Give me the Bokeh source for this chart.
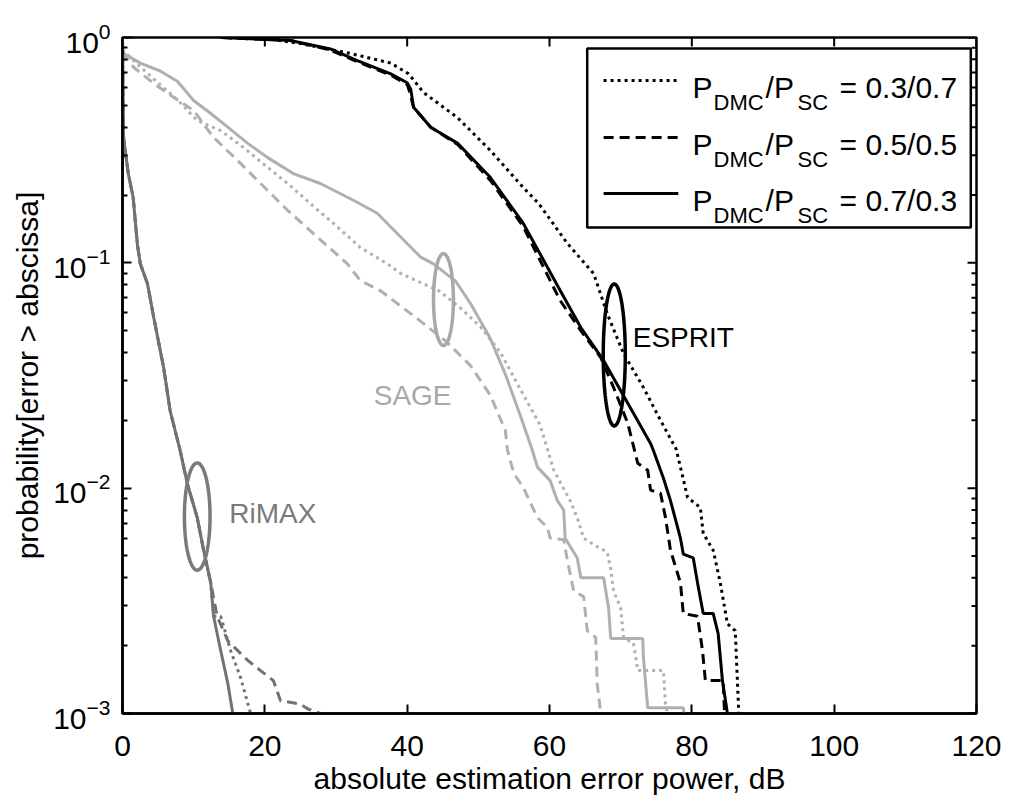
import numpy as np
from bokeh.plotting import figure
from bokeh.models import FixedTicker
from bokeh.core.properties import value
from bokeh.embed import file_html
from bokeh.resources import INLINE

FONT = "Liberation Sans"

# ---------------- data ----------------
# ESPRIT (black)
esprit_dot_x = [14, 20, 25.0, 32.0, 37.7, 40.2, 42.3, 47.1, 51.7, 56.3, 58.5, 62.5, 66.2, 68.1, 70.4, 73.2,
                75.6, 77.8, 79.4, 81.2, 81.6, 83.0, 84.0, 85.0, 86.1, 86.4, 86.6]
esprit_dot_y = [1.0, 0.99, 0.94, 0.85, 0.77, 0.69, 0.57, 0.44, 0.315, 0.216, 0.183, 0.122, 0.0897, 0.0596, 0.0396, 0.028,
                0.020, 0.0149, 0.0091, 0.0082, 0.0063, 0.0053, 0.0038, 0.0025, 0.00233, 0.0014, 0.001]

esprit_sol_x = [13.8, 23.6, 29.2, 33.0, 37.7, 40.0, 40.5, 40.9, 43.3, 47.1, 51.7, 56.3, 61.5, 64.4, 67.6, 71.0,
                74.2, 74.6, 76.0, 77.0, 78.4, 78.8, 80.2, 80.8, 81.6, 83.0, 83.7, 84.3, 85.0]
esprit_sol_y = [1.0, 0.97, 0.89, 0.79, 0.69, 0.63, 0.59, 0.49, 0.40, 0.339, 0.239, 0.150, 0.0754, 0.0516, 0.0369, 0.0238,
                0.0158, 0.0147, 0.0111, 0.0088, 0.0060, 0.0051, 0.0049, 0.0038, 0.00278, 0.00278, 0.00226, 0.0014, 0.001]

esprit_dash_x = [14.0, 23.6, 29.2, 33.0, 37.7, 40.0, 40.3, 40.9, 43.3, 47.1, 51.7, 56.3, 61.5, 64.4, 67.2, 69.0,
                 71.0, 72.4, 73.8, 74.2, 75.6, 76.3, 77.0, 78.4, 78.8, 80.8, 81.5, 81.9, 84.4, 84.6]
esprit_dash_y = [1.0, 0.97, 0.88, 0.78, 0.68, 0.62, 0.58, 0.49, 0.40, 0.335, 0.232, 0.145, 0.068, 0.050, 0.038, 0.028,
                 0.0194, 0.0129, 0.012, 0.0098, 0.0095, 0.0074, 0.0053, 0.0038, 0.00278, 0.0027, 0.0019, 0.0014, 0.0014, 0.001]

# SAGE (light gray)
sage_sol_x = [0.0, 0.14, 2.5, 5.3, 7.7, 10.0, 12.4, 14.8, 17.6, 20.4, 24.0, 27.8, 32.5, 35.8, 38.6, 41.9, 43.7,
              46.8, 48.9, 51.7, 53.8, 55.9, 57.6, 58.3, 60.1, 61.1, 62.0, 62.2, 63.9, 64.4, 67.6, 68.3, 68.6,
              73.1, 73.2, 73.8, 78.8, 78.9]
sage_sol_y = [0.92, 0.85, 0.77, 0.71, 0.64, 0.525, 0.46, 0.40, 0.339, 0.293, 0.249, 0.225, 0.189, 0.166, 0.135, 0.106, 0.099,
              0.083, 0.066, 0.046, 0.032, 0.021, 0.0147, 0.0124, 0.0108, 0.0088, 0.0080, 0.0060, 0.0049, 0.0040, 0.0040, 0.00295, 0.00215,
              0.00215, 0.00177, 0.00106, 0.00106, 0.001]

sage_dot_x = [0.0, 2.5, 5.0, 7.7, 10.5, 13.8, 17.0, 20.4, 23.2, 26.4, 29.6, 33.4, 37.2, 39.1, 44.5, 47.5, 50.3,
              53.1, 55.9, 58.7, 60.6, 62.9, 63.9, 64.8, 66.7, 68.1, 68.6, 69.0, 70.0, 70.4, 71.8, 72.4, 76.0, 76.3, 76.6]
sage_dot_y = [0.88, 0.74, 0.63, 0.53, 0.428, 0.386, 0.325, 0.265, 0.225, 0.183, 0.150, 0.117, 0.099, 0.0897, 0.075, 0.063, 0.052,
              0.040, 0.0275, 0.019, 0.012, 0.0088, 0.0074, 0.0060, 0.0055, 0.0052, 0.0044, 0.0035, 0.00295, 0.00217, 0.00205, 0.00155,
              0.00155, 0.0011, 0.001]

sage_dash_x = [0.0, 1.6, 4.4, 7.2, 10.0, 12.8, 16.2, 19.4, 23.2, 26.8, 31.6, 33.4, 36.3, 41.9, 45.4, 48.9, 51.7,
               53.8, 54.1, 55.0, 56.3, 58.3, 59.7, 60.1, 62.0, 62.5, 63.4, 64.8, 65.3, 66.5, 66.7, 67.2]
sage_dash_y = [0.86, 0.736, 0.625, 0.542, 0.474, 0.360, 0.284, 0.225, 0.171, 0.135, 0.099, 0.0835, 0.075, 0.055, 0.045, 0.035, 0.0258,
               0.018, 0.0147, 0.0116, 0.0101, 0.0074, 0.0067, 0.0060, 0.0059, 0.0048, 0.0035, 0.0033, 0.00233, 0.00217, 0.00136, 0.001]

# RiMAX (dark gray)
rimax_sol_x = [0.0, 0.1, 0.15, 0.8, 1.5, 2.1, 2.5, 3.5, 4.4, 5.8, 6.7, 8.1, 9.1, 10.5, 11.4, 12.4, 12.8, 13.8, 14.8, 15.5]
rimax_sol_y = [1.0, 0.5, 0.36, 0.25, 0.195, 0.12, 0.099, 0.081, 0.057, 0.034, 0.022, 0.0147, 0.0105, 0.0074, 0.0053, 0.0038,
               0.0027, 0.0019, 0.00136, 0.001]

rimax_dot_x = [0.0, 0.1, 0.15, 0.8, 1.5, 2.1, 2.5, 3.5, 4.4, 5.8, 6.7, 8.1, 9.1, 10.5, 11.4, 12.4, 12.8, 13.8, 15.2, 16.6, 18.0]
rimax_dot_y = [1.0, 0.5, 0.36, 0.25, 0.195, 0.12, 0.099, 0.081, 0.057, 0.034, 0.022, 0.0147, 0.0105, 0.0074, 0.0053, 0.0038,
               0.0027, 0.0027, 0.0019, 0.00144, 0.001]

rimax_dash_x = [0.0, 0.1, 0.15, 0.8, 1.5, 2.1, 2.5, 3.5, 4.4, 5.8, 6.7, 8.1, 9.1, 10.5, 11.4, 12.4, 13.3, 14.8, 16.2, 17.6,
                19.4, 21.2, 22.2, 25.0, 26.0, 27.8]
rimax_dash_y = [1.0, 0.5, 0.36, 0.25, 0.195, 0.12, 0.099, 0.081, 0.057, 0.034, 0.022, 0.0147, 0.0105, 0.0074, 0.0053, 0.0038,
                0.0027, 0.0021, 0.0019, 0.00172, 0.00155, 0.0014, 0.00114, 0.0011, 0.00105, 0.001]

# ticks
x_ticks = [0, 20, 40, 60, 80, 100, 120]
y_ticks = [1e-3, 1e-2, 1e-1, 1.0]
y_minor = [m * d for d in [1e-3, 1e-2, 1e-1] for m in range(2, 10)]

# legend
legend_values = ["0.3/0.7", "0.5/0.5", "0.7/0.3"]
legend_dash = ["3 4", "10 6", "solid"]

# group annotations (name, centre x, centre y, half width [dB], half height [decades], colour)
groups = ["ESPRIT", "SAGE", "RiMAX"]
group_cx = [69.1, 45.1, 10.5]
group_cy = [0.039, 0.0687, 0.00748]
group_rx = [1.55, 1.4, 1.8]
group_ry = [0.315, 0.204, 0.238]
group_label_x = [71.7, 35.3, 15.0]
group_label_y = [0.0466, 0.0258, 0.0077]

BLACK = "#000000"
LIGHT = "#b0b0b0"
DARK = "#727272"
group_col = [BLACK, "#a8a8a8", "#7a7a7a"]

# ---------------- figure ----------------
X0, X1, Y0, Y1 = 0, 120, 1e-3, 1.0
p = figure(frame_width=854, frame_height=676, x_range=(X0, X1), y_range=(Y0, Y1),
           y_axis_type="log", output_backend="svg", toolbar_location=None,
           min_border_left=122, min_border_top=37, min_border_right=27, min_border_bottom=80)
p.grid.visible = False
p.outline_line_color = "black"
p.outline_line_width = 2.5
p.background_fill_color = "white"
p.border_fill_color = "white"

p.xaxis.ticker = FixedTicker(ticks=x_ticks)
p.yaxis.ticker = FixedTicker(ticks=y_ticks, minor_ticks=y_minor)

for ax in p.xaxis + p.yaxis:
    ax.axis_line_width = 2.5
    ax.major_tick_in = 9
    ax.major_tick_out = 0
    ax.minor_tick_in = 5
    ax.minor_tick_out = 0
    ax.major_tick_line_width = 2
    ax.minor_tick_line_width = 2
    ax.major_label_text_font = FONT
    ax.major_label_text_font_size = "30px"
    ax.major_label_text_color = "black"
    ax.axis_label_text_font = FONT
    ax.axis_label_text_font_size = "30px"
    ax.axis_label_text_font_style = "normal"
    ax.axis_label_text_color = "black"
p.xaxis.minor_tick_line_color = None
p.xaxis.major_label_standoff = 22
p.xaxis.axis_label_standoff = 3
p.yaxis.major_label_standoff = 12
p.yaxis.axis_label_standoff = 6
p.xaxis.axis_label = "absolute estimation error power, dB"
p.yaxis.axis_label = "probability[error > abscissa]"

# inner ticks on the top and right edges of the box (MATLAB "box on")
p.ray(x=x_ticks, y=[Y1] * len(x_ticks), length=9, angle=-np.pi / 2, length_units="screen",
      line_color="black", line_width=2)
p.ray(x=[X1] * len(y_ticks), y=y_ticks, length=9, angle=np.pi, length_units="screen",
      line_color="black", line_width=2)
p.ray(x=[X1] * len(y_minor), y=y_minor, length=5, angle=np.pi, length_units="screen",
      line_color="black", line_width=2)

LW = 3
series = [
    (esprit_dot_x, esprit_dot_y, BLACK, "3 4"),
    (esprit_dash_x, esprit_dash_y, BLACK, "10 6"),
    (esprit_sol_x, esprit_sol_y, BLACK, "solid"),
    (sage_dot_x, sage_dot_y, LIGHT, "3 4"),
    (sage_dash_x, sage_dash_y, LIGHT, "10 6"),
    (sage_sol_x, sage_sol_y, LIGHT, "solid"),
    (rimax_dot_x, rimax_dot_y, DARK, "3 4"),
    (rimax_dash_x, rimax_dash_y, DARK, "10 6"),
    (rimax_sol_x, rimax_sol_y, DARK, "solid"),
]
for xs, ys, col, dash in series:
    p.line(xs, ys, line_color=col, line_width=LW, line_dash=dash)

# group ellipses and names
t = np.linspace(0, 2 * np.pi, 120)
for i, name in enumerate(groups):
    ex = group_cx[i] + group_rx[i] * np.cos(t)
    ey = 10 ** (np.log10(group_cy[i]) + group_ry[i] * np.sin(t))
    p.line(ex, ey, line_color=group_col[i], line_width=3.5)
    p.text(x=[group_label_x[i]], y=[group_label_y[i]], text=[name], text_color=group_col[i],
           text_font=value(FONT), text_font_size="28px", text_baseline="middle", text_align="left")

# ---------------- legend (drawn manually for subscripts) ----------------
leg_left, leg_right, leg_top, leg_bottom = 65.3, 119.2, 0.894, 0.1435
p.quad(left=[leg_left], right=[leg_right], top=[leg_top], bottom=[leg_bottom],
       fill_color="white", line_color="black", line_width=2.5)
row_y = [0.644, 0.360, 0.203]
sample_x0, sample_x1, text_x = 67.6, 78.1, 80.1
pieces = [("P", "30px", 0, 0), ("DMC", "22px", 21, 15), ("/P", "30px", 73, 0), ("SC", "22px", 105, 15)]
for i, val in enumerate(legend_values):
    p.line([sample_x0, sample_x1], [row_y[i], row_y[i]], line_color="black", line_width=LW,
           line_dash=legend_dash[i])
    for txt, size, dx, dy in pieces + [("= " + val, "30px", 147, 0)]:
        p.text(x=[text_x], y=[row_y[i]], text=[txt], x_offset=dx, y_offset=7 + dy,
               text_font=value(FONT), text_font_size=size, text_color="black",
               text_baseline="alphabetic", text_align="left")

open("out.html", "w").write(file_html(p, INLINE))
